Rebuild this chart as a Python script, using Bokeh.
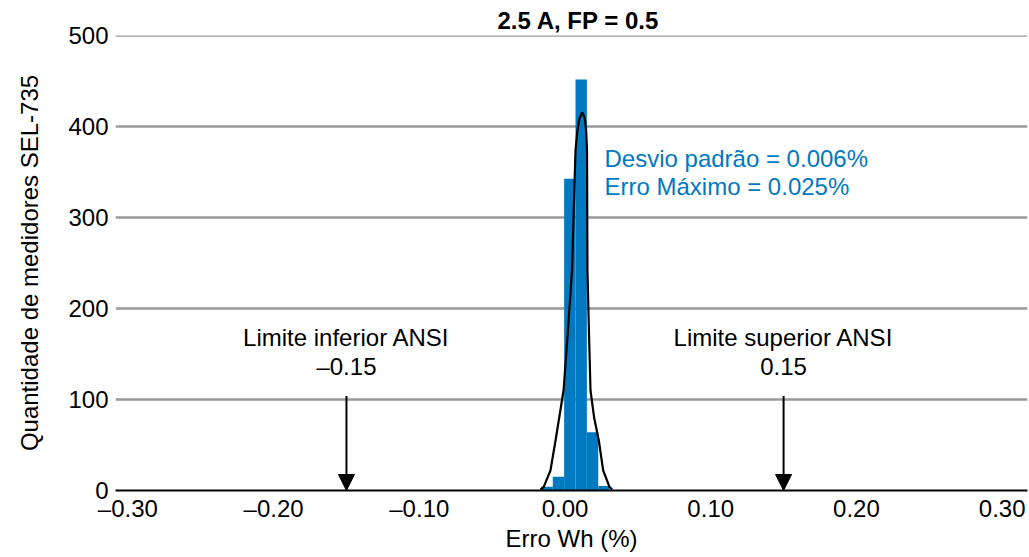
from bokeh.plotting import figure
from bokeh.models import (Range1d, FixedTicker, CustomJSTickFormatter, Label, Arrow,
                          NormalHead, ColumnDataSource)
from bokeh.embed import file_html
from bokeh.resources import INLINE

# ---- data ----
title_text = "2.5 A, FP = 0.5"
x_label = "Erro Wh (%)"
y_label = "Quantidade de medidores SEL-735"
x_ticks = [-0.30, -0.20, -0.10, 0.00, 0.10, 0.20, 0.30]
y_ticks = [0, 100, 200, 300, 400, 500]

bin_centers = [-0.0123, -0.0045, 0.0033, 0.0111, 0.0189, 0.0267]
counts = [4, 15, 343, 452, 64, 5]
bin_width = 0.0078

curve_x = [-0.0168, -0.0146, -0.0100, -0.0065, -0.0010, 0.0020, 0.0048, 0.0072,
           0.0085, 0.0099, 0.0118, 0.0136, 0.0145, 0.0151, 0.0154, 0.0164,
           0.0175, 0.0200, 0.0232, 0.0262, 0.0305, 0.0324]
curve_y = [1, 4, 22, 55, 110, 176, 242, 374, 396, 409, 416, 409, 396, 374, 242, 176,
           110, 80, 55, 22, 4, 1]

lower_limit = -0.15
upper_limit = 0.15
stats_lines = ["Desvio padrão = 0.006%", "Erro Máximo = 0.025%"]

FONT = "Liberation Sans"
BLUE = "#0079c1"
FS = "24px"

p = figure(width=1029, height=557, output_backend="svg", toolbar_location=None,
           x_range=Range1d(-0.3085, 0.3174), y_range=Range1d(0, 500.5),
           min_border_left=115, min_border_right=2, min_border_top=35,
           min_border_bottom=67)
p.outline_line_color = None
p.background_fill_color = "white"

# title
p.title.text = title_text
p.title.align = "left"
p.title.offset = 382
p.title.text_font = FONT
p.title.text_font_size = "24px"
p.title.text_font_style = "bold"
p.title.text_color = "black"
p.title.standoff = 3

# grid
p.xgrid.grid_line_color = None
p.ygrid.ticker = FixedTicker(ticks=y_ticks[1:])
p.ygrid.grid_line_color = "#9a9a9a"
p.ygrid.grid_line_width = 2.5

# axes
p.xaxis.ticker = FixedTicker(ticks=x_ticks)
p.xaxis.formatter = CustomJSTickFormatter(
    code="return (tick < -1e-9 ? '\u2013' : '') + Math.abs(tick).toFixed(2);")
p.xaxis.axis_label = x_label
p.xaxis.axis_line_color = "black"
p.xaxis.axis_line_width = 2
p.xaxis.major_tick_line_color = None
p.xaxis.minor_tick_line_color = None
p.xaxis.major_tick_out = 0
p.xaxis.major_tick_in = 0
p.xaxis.major_label_standoff = 4
p.xaxis.axis_label_standoff = 0
p.yaxis.ticker = FixedTicker(ticks=y_ticks)
p.yaxis.axis_label = y_label
p.yaxis.axis_line_color = None
p.yaxis.major_tick_line_color = None
p.yaxis.minor_tick_line_color = None
p.yaxis.major_tick_out = 0
p.yaxis.major_tick_in = 0
p.yaxis.major_label_standoff = 7
p.yaxis.axis_label_standoff = 22
for ax in (p.xaxis, p.yaxis):
    ax.major_label_text_font = FONT
    ax.major_label_text_font_size = FS
    ax.major_label_text_color = "black"
    ax.axis_label_text_font = FONT
    ax.axis_label_text_font_size = FS
    ax.axis_label_text_font_style = "normal"
    ax.axis_label_text_color = "black"

# histogram
src = ColumnDataSource(dict(x=bin_centers, top=counts))
p.vbar(x="x", top="top", width=bin_width, bottom=0, source=src,
       fill_color=BLUE, line_color=None)

# fitted curve
p.line(curve_x, curve_y, line_color="black", line_width=2.2)

# limit arrows and labels
for xv, name, num in [(lower_limit, "Limite inferior ANSI", "\u20130.15"),
                      (upper_limit, "Limite superior ANSI", "0.15")]:
    p.add_layout(Arrow(end=NormalHead(size=16, fill_color="black", line_color="black"),
                       x_start=xv, y_start=104, x_end=xv, y_end=0,
                       line_color="black", line_width=2))
    p.add_layout(Label(x=xv, y=168, text=name, text_align="center",
                       text_baseline="middle", text_font=FONT,
                       text_font_size=FS, text_color="black"))
    p.add_layout(Label(x=xv, y=136, text=num, text_align="center",
                       text_baseline="middle", text_font=FONT,
                       text_font_size=FS, text_color="black"))

# statistics text
for i, line in enumerate(stats_lines):
    p.add_layout(Label(x=0.0271, y=365 - 31 * i, text=line, text_align="left",
                       text_baseline="middle", text_font=FONT,
                       text_font_size=FS, text_color=BLUE))

open("out.html", "w").write(file_html(p, INLINE))
